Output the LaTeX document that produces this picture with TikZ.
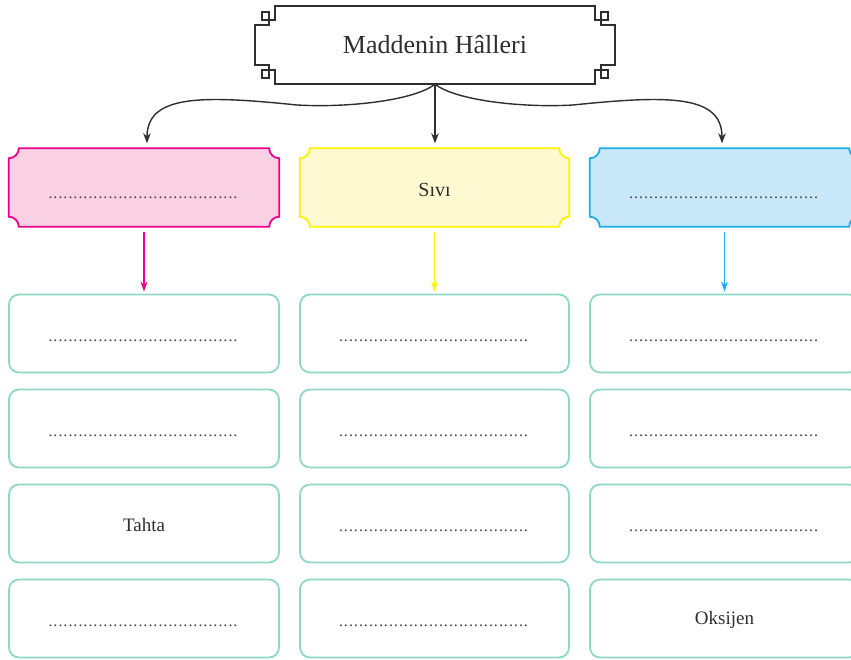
\documentclass[tikz,border=0pt]{standalone}
\usepackage{fontspec}
\setmainfont{Liberation Serif}
\usetikzlibrary{arrows.meta,calc}
\definecolor{ink}{HTML}{2E2E2E}
\definecolor{dotgray}{HTML}{444444}
\definecolor{pinkline}{HTML}{EC008C}
\definecolor{pinkfill}{HTML}{F9D1E3}
\definecolor{yelline}{HTML}{FFF200}
\definecolor{yelfill}{HTML}{FFF9D2}
\definecolor{blueline}{HTML}{1AAEEB}
\definecolor{bluefill}{HTML}{C8E8F9}
\definecolor{tealline}{HTML}{8FD8C6}
\newcommand\dotrow{\hbox to 192pt{\leaders\hbox to 5pt{\hss.\hss}\hfill}}
\newcommand\notchpath[2]{%
  ($(#1.north west)+(#2,0)$) -- ($(#1.north east)+(-#2,0)$)
  arc[start angle=180,end angle=270,radius=#2]
  -- ($(#1.south east)+(0,#2)$)
  arc[start angle=90,end angle=180,radius=#2]
  -- ($(#1.south west)+(#2,0)$)
  arc[start angle=0,end angle=90,radius=#2]
  -- ($(#1.north west)+(0,-#2)$)
  arc[start angle=270,end angle=360,radius=#2] -- cycle}
\begin{document}
\begin{tikzpicture}[x=1pt,y=1pt,
  boxframe/.style={minimum width=270pt,minimum height=78pt,inner sep=0pt,draw=none},
  tealbox/.style={boxframe,draw=tealline,line width=1.8pt,rounded corners=10pt,fill=white},
  dotsty/.style={font=\fontsize{16}{16}\selectfont,text=dotgray,inner sep=0pt,anchor=base},
  wordsty/.style={font=\fontsize{19}{22}\selectfont,text=ink,inner sep=0pt},
  blackarrow/.style={draw=ink,line width=1.4pt,-{Stealth[length=10pt,width=7.5pt]},shorten >=5pt},
  colarrow/.style={line width=1.4pt,-{Stealth[length=10pt,width=7pt]},shorten <=5pt,shorten >=2pt}]
\useasboundingbox (0,0) rectangle (851,-659);
\clip (0,0) rectangle (851,-659);

% title
\draw[ink,line width=1.4pt,fill=white]
  (275,-6) -- (595,-6) -- (595,-20) -- (608,-20) -- (608,-12) -- (601,-12) -- (601,-25) -- (615,-25)
  -- (615,-65) -- (601,-65) -- (601,-78) -- (608,-78) -- (608,-70) -- (595,-70) -- (595,-84)
  -- (275,-84) -- (275,-70) -- (262,-70) -- (262,-78) -- (269,-78) -- (269,-65) -- (255,-65)
  -- (255,-25) -- (269,-25) -- (269,-12) -- (262,-12) -- (262,-20) -- (275,-20) -- cycle;
\node[minimum width=320pt,minimum height=78pt,inner sep=0pt,text=ink,
      font=\fontsize{26}{30}\selectfont] (title) at (435,-45) {Maddenin Hâlleri};

% coloured boxes
\node[boxframe] (pink) at (144,-187.5) {};
\node[boxframe,minimum width=269pt] (yel) at (434.5,-187.5) {};
\node[boxframe,minimum width=269pt] (blue) at (724.5,-187.5) {};
\fill[pinkfill] \notchpath{pink}{10pt};
\draw[pinkline,line width=1.8pt] \notchpath{pink}{10pt};
\fill[yelfill] \notchpath{yel}{10pt};
\draw[yelline,line width=1.8pt] \notchpath{yel}{10pt};
\fill[bluefill] \notchpath{blue}{10pt};
\draw[blueline,line width=1.8pt] \notchpath{blue}{10pt};
\node[dotsty] (pinkt) at (144,-198) {\dotrow};
\node[wordsty,font=\fontsize{20}{24}\selectfont] (yelt) at (434.5,-190) {Sıvı};
\node[dotsty] (bluet) at (724.5,-198) {\dotrow};

% teal boxes
\foreach \r/\yc in {1/333.5,2/428.5,3/523.5,4/618.5}{
  \node[tealbox] (a\r) at (144,-\yc) {};
  \node[tealbox,minimum width=269pt] (b\r) at (434.5,-\yc) {};
  \node[tealbox,minimum width=269pt] (c\r) at (724.5,-\yc) {};
}
\foreach \r/\yb in {1/341.5,2/436.5,4/626.5}{
  \node[dotsty] (at\r) at (144,-\yb) {\dotrow};}
\foreach \r/\yb in {1/341.5,2/436.5,3/531.5,4/626.5}{
  \node[dotsty] (bt\r) at (434.5,-\yb) {\dotrow};}
\foreach \r/\yb in {1/341.5,2/436.5,3/531.5}{
  \node[dotsty] (ct\r) at (724.5,-\yb) {\dotrow};}
\node[wordsty] (at3) at (144,-525) {Tahta};
\node[wordsty] (ct4) at (724.5,-620) {Oksijen};

% connectors
\coordinate (lmid) at (297,-105);
\coordinate (rmid) at (573,-105);
\draw[blackarrow] (title.south) -- (title.south |- yel.north);
\draw[blackarrow] (title.south) .. controls (415,-100) and (350,-108) .. (lmid)
  .. controls (200,-95) and (147,-95) .. ([xshift=3pt]pink.north);
\draw[blackarrow] (title.south) .. controls (455,-100) and (520,-108) .. (rmid)
  .. controls (670,-95) and (722,-95) .. ([xshift=-2.5pt]blue.north);
\draw[colarrow,pinkline] (pink.south) -- (a1.north);
\draw[colarrow,yelline] (yel.south) -- (b1.north);
\draw[colarrow,blueline] (blue.south) -- (c1.north);
\end{tikzpicture}
\end{document}
